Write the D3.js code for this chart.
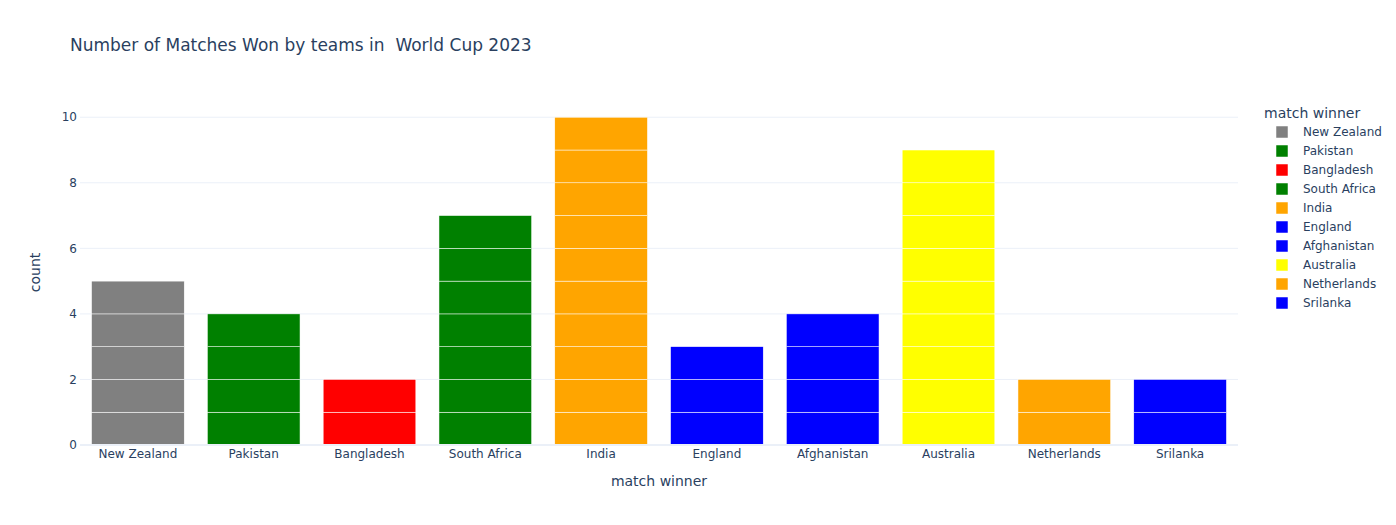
<!DOCTYPE html>
<html><head><meta charset="utf-8">
<script src="https://cdn.jsdelivr.net/npm/d3@7"></script>
<style>body{margin:0;background:#fff}svg{font-family:"DejaVu Sans",verdana,arial,sans-serif}</style>
</head><body><svg id="c" width="1396" height="525"></svg>
<script>
const teams = ["New Zealand","Pakistan","Bangladesh","South Africa","India","England","Afghanistan","Australia","Netherlands","Srilanka"];
const wins = [5,4,2,7,10,3,4,9,2,2];
const colors = ["gray","green","red","green","orange","blue","blue","yellow","orange","blue"];
const yTicks = [0,2,4,6,8,10];

const svg = d3.select("#c");
const m = {l:80, r:1238, t:100, b:445};
const txt = "#2a3f5f";
const x = d3.scaleBand().domain(teams).range([m.l, m.r]).paddingInner(0.2).paddingOuter(0.1);
const y = d3.scaleLinear().domain([0, 10.526]).range([m.b, m.t]);

svg.append("g").selectAll("line").data(yTicks.filter(d=>d>0)).join("line")
  .attr("x1", m.l).attr("x2", m.r).attr("y1", d=>y(d)).attr("y2", d=>y(d))
  .attr("stroke", "#EBF0F8").attr("stroke-width", 1);

const segs = [];
teams.forEach((t,i)=>{ for(let k=0;k<wins[i];k++) segs.push({t, k, c:colors[i]}); });
svg.append("g").selectAll("rect").data(segs).join("rect")
  .attr("x", d=>x(d.t)).attr("width", x.bandwidth())
  .attr("y", d=>y(d.k+1)).attr("height", d=>y(d.k)-y(d.k+1))
  .attr("fill", d=>d.c).attr("stroke", "white").attr("stroke-width", 0.5);

svg.append("line").attr("x1", m.l).attr("x2", m.r).attr("y1", y(0)).attr("y2", y(0))
  .attr("stroke", "#EBF0F8").attr("stroke-width", 2);

svg.append("g").selectAll("text").data(yTicks).join("text")
  .attr("x", m.l - 3).attr("y", d=>y(d)).attr("dy", "0.35em").attr("text-anchor","end")
  .attr("font-size", 12).attr("fill", txt).text(d=>d);
svg.append("g").selectAll("text").data(teams).join("text")
  .attr("x", d=>x(d)+x.bandwidth()/2).attr("y", m.b + 13).attr("text-anchor","middle")
  .attr("font-size", 12).attr("fill", txt).text(d=>d);

svg.append("text").attr("x", (m.l+m.r)/2).attr("y", 486).attr("text-anchor","middle")
  .attr("font-size", 14).attr("fill", txt).text("match winner");
svg.append("text").attr("transform", `translate(40,${(m.t+m.b)/2}) rotate(-90)`).attr("text-anchor","middle")
  .attr("font-size", 14).attr("fill", txt).text("count");

svg.append("text").attr("x", 70).attr("y", 51).attr("font-size", 17).attr("fill", txt)
  .attr("xml:space","preserve").style("white-space","pre").text("Number of Matches Won by teams in  World Cup 2023");

const lg = svg.append("g").attr("transform","translate(1264,0)");
lg.append("text").attr("x", 0).attr("y", 118).attr("font-size", 14).attr("fill", txt).text("match winner");
const items = lg.selectAll("g.it").data(teams).join("g").attr("class","it")
  .attr("transform", (d,i)=>`translate(0,${132 + i*19})`);
items.append("rect").attr("x", 12).attr("y", -6).attr("width", 12).attr("height", 12)
  .attr("fill", (d,i)=>colors[i]).attr("stroke","white").attr("stroke-width",0.5);
items.append("text").attr("x", 39).attr("y", 0).attr("dy","0.35em").attr("font-size", 12).attr("fill", txt).text(d=>d);
</script></body></html>
